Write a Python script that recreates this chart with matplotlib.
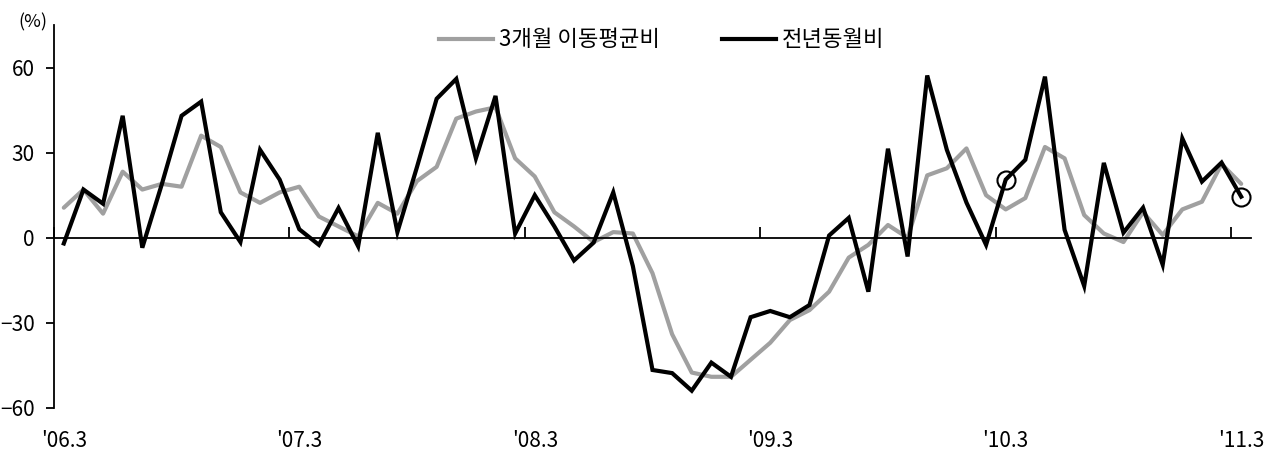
import matplotlib
matplotlib.use("Agg")
import matplotlib.pyplot as plt
from matplotlib.lines import Line2D

plt.rcParams['font.family'] = ['Noto Sans CJK KR', 'DejaVu Sans']

x_labels = ["'06.3", "'07.3", "'08.3", "'09.3", "'10.3", "'11.3"]
n_months = 61

yoy = [-2, 17, 12, 43, -3.5, 19, 43, 48, 9, -1.5,
       31, 20.5, 3, -2.5, 10.5, -3, 37, 2, 25, 49,
       56, 28, 50, 1.5, 15, 4, -8, -1.7, 16, -10,
       -46.6, -47.7, -53.9, -44, -49, -28, -25.8, -28, -23.7, 0.8,
       7, -19, 31.4, -6.6, 57.2, 31, 12.4, -2.5, 20.5, 27.5,
       56.8, 2.8, -17, 26.4, 1.8, 10.6, -9.5, 35, 19.8, 26.5,
       14.5]

ma3 = [10.6, 17, 8.5, 23.3, 17, 19, 18, 36, 32, 16,
       12.3, 16, 18, 7.5, 4, 0.5, 12.3, 8.5, 20, 25,
       42, 44.5, 46, 28, 21.6, 9, 4, -1.5, 2, 1.5,
       -12.5, -34, -47.5, -49, -49, -43, -37, -29, -25.5, -19,
       -7, -2.5, 4.5, 0, 22, 24.5, 31.5, 15, 10, 14,
       32, 28, 8, 1.5, -1.5, 9, 1, 10, 12.7, 26,
       19]

highlight_idx = [48, 60]
y_ticks = [-60, -30, 0, 30, 60]
y_tick_labels = ["\u221260", "\u221230", "0", "30", "60"]

fig = plt.figure(figsize=(12.79, 4.54), dpi=100)
ax = fig.add_axes([54/1279, 1-408/454, (1251-54)/1279, (408-25)/454])

xs = list(range(n_months))
ax.plot(xs, ma3, color='#a0a0a0', lw=3.0, solid_joinstyle='round', solid_capstyle='round', zorder=2,
        label='3개월 이동평균비')
ax.plot(xs, yoy, color='black', lw=3.0, solid_joinstyle='miter', zorder=3, label='전년동월비')
ax.plot([xs[i] for i in highlight_idx], [yoy[i] for i in highlight_idx], ls='none', marker='o',
        ms=13, mfc='none', mec='black', mew=1.5, zorder=4)

ax.set_xlim(-0.5, n_months - 0.5)
ax.set_ylim(-60, 75)

for s in ['top', 'right']:
    ax.spines[s].set_visible(False)
ax.spines['bottom'].set_position(('data', 0))
ax.spines['bottom'].set_linewidth(1.3)
ax.spines['left'].set_linewidth(1.3)
ax.spines['left'].set_bounds(-60, 75)

ax.set_yticks(y_ticks)
ax.set_yticklabels(y_tick_labels)
ax.tick_params(axis='y', direction='out', length=6, width=1.3, labelsize=15, pad=8)

ax.set_xticks([-0.5 + 12*k for k in range(6)])
ax.set_xticklabels([])
ax.tick_params(axis='x', direction='in', length=8, width=1.3)

trans = ax.get_xaxis_transform()
for k, lab in enumerate(x_labels):
    ax.text(12*k, -0.085, lab, transform=trans, ha='center', va='center', fontsize=15)

fig.text(33/1279, 1-22/454, '(%)', ha='center', va='center', fontsize=13)

handles = [Line2D([], [], color='#a0a0a0', lw=3.0), Line2D([], [], color='black', lw=3.0)]
fig.legend(handles, ['3개월 이동평균비', '전년동월비'], loc='center', bbox_to_anchor=(662/1279, 1-40/454),
           ncol=2, frameon=False, fontsize=16, handlelength=2.4, handletextpad=0.3, columnspacing=2.8)

fig.savefig('out.png', dpi=100)
